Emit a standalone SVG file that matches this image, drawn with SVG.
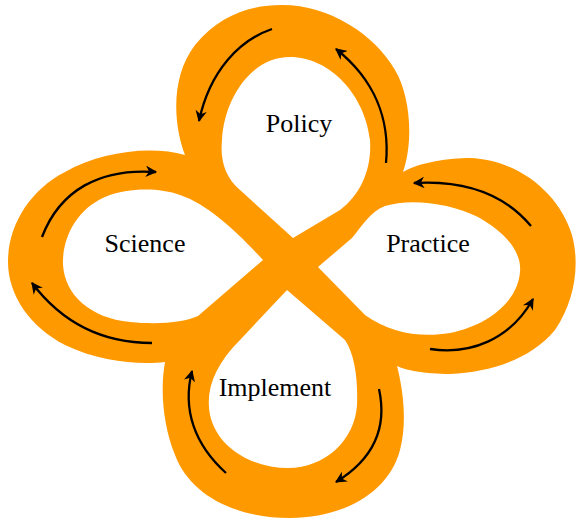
<svg xmlns="http://www.w3.org/2000/svg" width="576" height="522" viewBox="0 0 576 522">
<style>
.band{fill:#FF9900;fill-rule:evenodd;stroke:none}
.lbl{font-family:"Liberation Serif","Times New Roman",serif;font-size:26px;fill:#000;text-anchor:middle}
.arr{fill:none;stroke:#000;stroke-width:2.3;marker-end:url(#ah)}
</style>
<defs>
<marker id="ah" viewBox="0 0 10 10" refX="9" refY="5" markerWidth="5" markerHeight="5" orient="auto" markerUnits="strokeWidth">
<path d="M0,0 L10,5 L0,10 L3,5 z" fill="#000"/>
</marker>
</defs>
<g id="loop-band">
<path class="band" d="M185,155 C172,120 172,75 195,45 C220,15 250,5 282,5 C330,5 375,35 395,70 C410,95 414,140 403,172
C420,162 450,158 470,158 C520,160 560,195 572,235 C580,265 575,300 555,330 C530,360 490,372 450,374 C425,374 405,370 397,366
C402,385 408,420 400,450 C388,495 340,518 290,518 C235,518 190,495 175,455 C163,425 160,390 165,362
C140,365 100,362 65,345 C30,327 8,295 8,262 C8,225 30,190 65,172 C100,152 150,145 185,155 Z
M293,238 L240,190 C225,177 220,160 222,140 C224,100 250,57 290,57 C330,57 365,95 370,140 C372,170 360,195 340,210 Z
M263,260 C240,235 210,205 180,195 C160,188 130,187 105,197 C75,210 62,240 63,265 C65,295 90,318 130,322 C160,325 185,322 198,316 Z
M318,267 L352,238 C362,226 370,212 385,206 C410,198 450,203 478,217 C505,232 522,252 520,272 C518,300 490,325 450,333 C420,338 390,333 365,315 Z
M287,290 L240,340 C215,365 205,390 210,415 C218,450 255,468 288,468 C325,468 355,440 357,405 C358,380 355,355 345,340 Z"/>
</g>
<g id="policy"><text class="lbl" x="299" y="132">Policy</text></g>
<g id="science"><text class="lbl" x="145" y="252">Science</text></g>
<g id="practice"><text class="lbl" x="428" y="252">Practice</text></g>
<g id="implement"><text class="lbl" x="275" y="396">Implement</text></g>
<g id="connectors">
<path class="arr" d="M272,29 C240,40 210,70 199,121"/>
<path class="arr" d="M386,163 C390,120 375,80 336,49"/>
<path class="arr" d="M531,226 C505,195 465,180 414,183"/>
<path class="arr" d="M430,349 C470,355 510,340 533,299"/>
<path class="arr" d="M379,389 C388,430 372,460 336,482"/>
<path class="arr" d="M226,473 C195,445 182,410 192,371"/>
<path class="arr" d="M152,343 C100,343 60,320 32,283"/>
<path class="arr" d="M42,237 C60,190 100,168 156,172"/>
</g>
</svg>
